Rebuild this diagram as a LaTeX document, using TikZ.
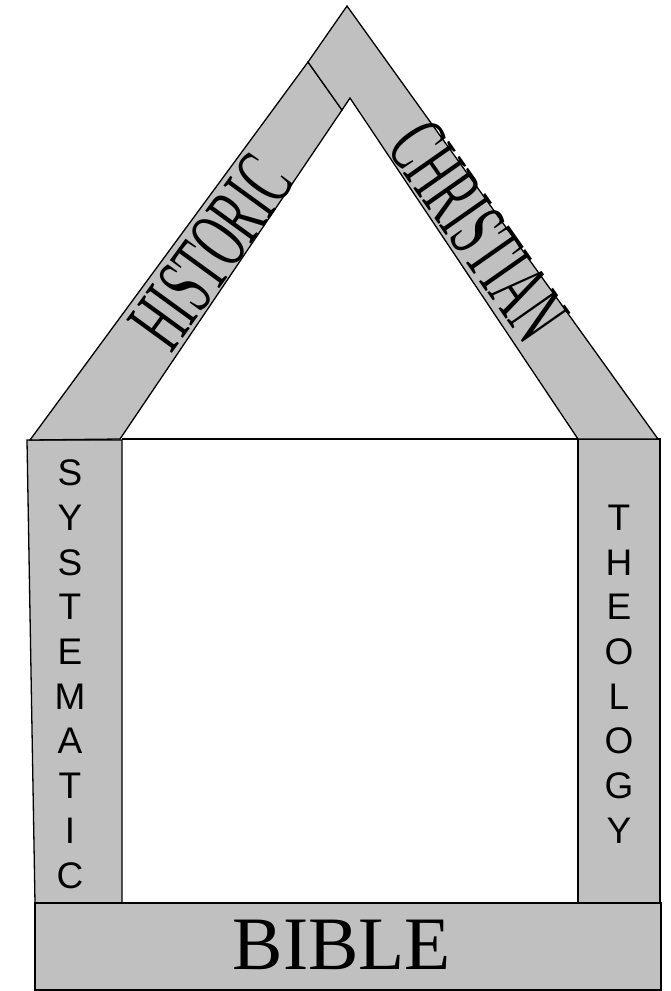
\documentclass[tikz,border=0pt]{standalone}
\usepackage{fontspec}
\setmainfont{Liberation Serif}
\newfontfamily\pillarfont{Liberation Sans}
\definecolor{cBeam}{HTML}{C0C0C0}
\tikzset{
  part/.style={draw=black,fill=cBeam,line width=1.3pt,line join=miter},
  ptxt/.style={font=\pillarfont\fontsize{37}{37}\selectfont,inner sep=0pt},
  rtxt/.style={inner sep=0pt,font=\fontsize{10}{10}\selectfont},
}

\begin{document}
\begin{tikzpicture}[x=1pt,y=-1pt]
  \useasboundingbox (0,0) rectangle (671,991);
  % walls and floor
  \draw[part] (27,440) -- (122,440) -- (122,903) -- (35,903) -- cycle;
  \draw[part] (578,439) -- (660,439) -- (660,903) -- (578,903) -- cycle;
  \draw[part] (35,903) rectangle (661,990);
  \draw[line width=1.3pt] (122,439) -- (578,439);
  % roof beams
  \draw[part] (30,440) -- (308,62) -- (342,110) -- (120,439) -- cycle;
  \draw[part] (308,62) -- (347,6) -- (658,439) -- (578,439) -- (350,98) -- (342,110) -- cycle;
  % labels
  \node[rtxt,rotate=54] (historic) at (211,252) {\resizebox{212pt}{57pt}{HISTORIC}};
  \node[rtxt,rotate=-55] (christian) at (478,231) {\resizebox{244pt}{57pt}{CHRISTIAN}};
  \foreach \l [count=\i from 0] in {S,Y,S,T,E,M,A,T,I,C}{
    \node[ptxt] (sys\i) at (70,473+44.7*\i) {\l};
  }
  \foreach \l [count=\i from 1] in {T,H,E,O,L,O,G,Y}{
    \node[ptxt] (theo\i) at (619,473+44.7*\i) {\l};
  }
  \node[inner sep=0pt,font=\fontsize{75.5}{75.5}\selectfont] (bible) at (342,945) {BIBLE};
\end{tikzpicture}
\end{document}
